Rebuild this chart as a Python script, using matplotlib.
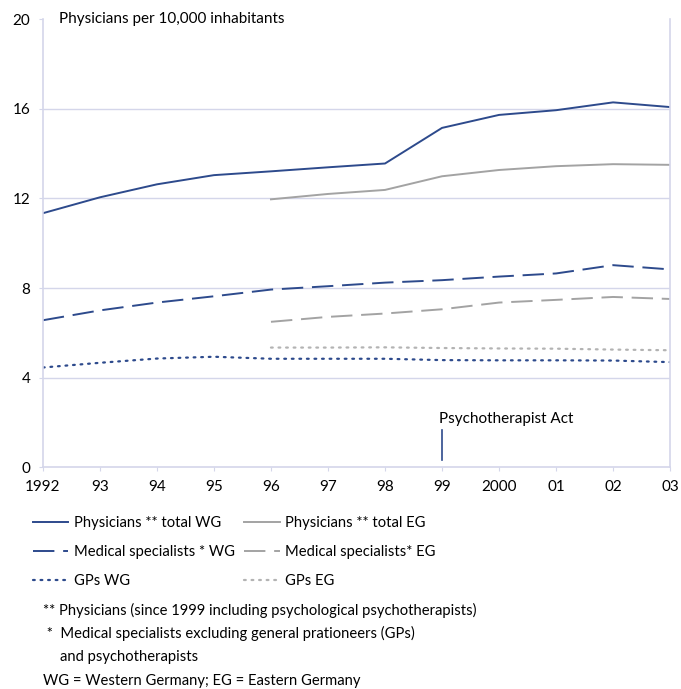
import matplotlib

matplotlib.use("Agg")
import matplotlib.pyplot as plt

plt.rcParams["font.family"] = ["Lato", "DejaVu Sans"]

years = [1992, 1993, 1994, 1995, 1996, 1997, 1998, 1999, 2000, 2001, 2002, 2003]
year_labels = ["1992", "93", "94", "95", "96", "97", "98", "99", "2000", "01", "02", "03"]
years_east = [1996, 1997, 1998, 1999, 2000, 2001, 2002, 2003]

physicians_wg = [11.34, 12.05, 12.63, 13.04, 13.21, 13.39, 13.56, 15.15, 15.73, 15.94, 16.29, 16.08]
specialists_wg = [6.56, 7.0, 7.35, 7.63, 7.93, 8.08, 8.24, 8.35, 8.51, 8.65, 9.02, 8.83]
gps_wg = [4.45, 4.66, 4.85, 4.93, 4.84, 4.84, 4.84, 4.78, 4.77, 4.77, 4.76, 4.69]

physicians_eg = [11.96, 12.2, 12.38, 12.99, 13.27, 13.44, 13.53, 13.5]
specialists_eg = [6.49, 6.71, 6.86, 7.05, 7.35, 7.47, 7.6, 7.51]
gps_eg = [5.34, 5.34, 5.35, 5.32, 5.3, 5.29, 5.25, 5.22]

act_year = 1999
act_marker = [0.3, 1.65]

BLUE = "#2d4a8c"
GREY = "#a3a3a3"
GREY_LIGHT = "#b3b3b3"
AXIS = "#d4d6ea"

fig = plt.figure(figsize=(6.81, 6.89), dpi=100)
ax = fig.add_axes([0.063, 0.322, 0.921, 0.65])

dash = (0, (11, 4.5))
dot = (0, (0.8, 2.6))

ax.plot(years, physicians_wg, color=BLUE, lw=1.4, label="Physicians ** total WG")
ax.plot(years_east, physicians_eg, color=GREY, lw=1.4, label="Physicians ** total EG")
ax.plot(years, specialists_wg, color=BLUE, lw=1.4, ls=dash, label="Medical specialists * WG")
ax.plot(years_east, specialists_eg, color=GREY, lw=1.4, ls=dash, label="Medical specialists* EG")
ax.plot(years, gps_wg, color=BLUE, lw=1.6, ls=dot, dash_capstyle="round", label="GPs WG")
ax.plot(years_east, gps_eg, color=GREY_LIGHT, lw=1.6, ls=dot, dash_capstyle="round", label="GPs EG")

ax.plot([act_year, act_year], act_marker, color=BLUE, lw=1.2)
ax.text(act_year - 0.05, 1.85, "Psychotherapist Act", fontsize=11, ha="left", va="bottom")

ax.set_xlim(1992, 2003)
ax.set_ylim(0, 20)
ax.set_xticks(years)
ax.set_xticklabels(year_labels)
ax.set_yticks([0, 4, 8, 12, 16, 20])
ax.set_yticklabels(["0", "4", "8", "12", "16", "20"])
ax.tick_params(axis="both", colors=AXIS, labelcolor="black", labelsize=11, length=3)
ax.tick_params(axis="y", pad=6)
ax.tick_params(axis="x", pad=6)

for y in [4, 8, 12, 16]:
    ax.axhline(y, color=AXIS, lw=1.0, zorder=0)
for side in ["left", "bottom", "right"]:
    ax.spines[side].set_color(AXIS)
    ax.spines[side].set_linewidth(1.2)
ax.spines["top"].set_visible(False)

ax.text(0.025, 1.0, "Physicians per 10,000 inhabitants", transform=ax.transAxes,
        fontsize=11, ha="left", va="center")

handles, labels = ax.get_legend_handles_labels()
order = [0, 2, 4, 1, 3, 5]
leg = fig.legend([handles[i] for i in order], [labels[i] for i in order],
                 loc="upper left", bbox_to_anchor=(0.040, 0.259), ncol=2, frameon=False,
                 fontsize=10.6, handlelength=2.4, handletextpad=0.35, columnspacing=0.65,
                 labelspacing=1.0, borderaxespad=0)

notes = [
    (0.063, 0.1147, "** Physicians (since 1999 including psychological psychotherapists)"),
    (0.063, 0.0813, " *  Medical specialists excluding general prationeers (GPs)"),
    (0.088, 0.0464, "and psychotherapists"),
    (0.063, 0.0116, "WG = Western Germany; EG = Eastern Germany"),
]
for x, y, s in notes:
    fig.text(x, y, s, fontsize=10.6, ha="left", va="center")

fig.savefig("out.png", dpi=100)
